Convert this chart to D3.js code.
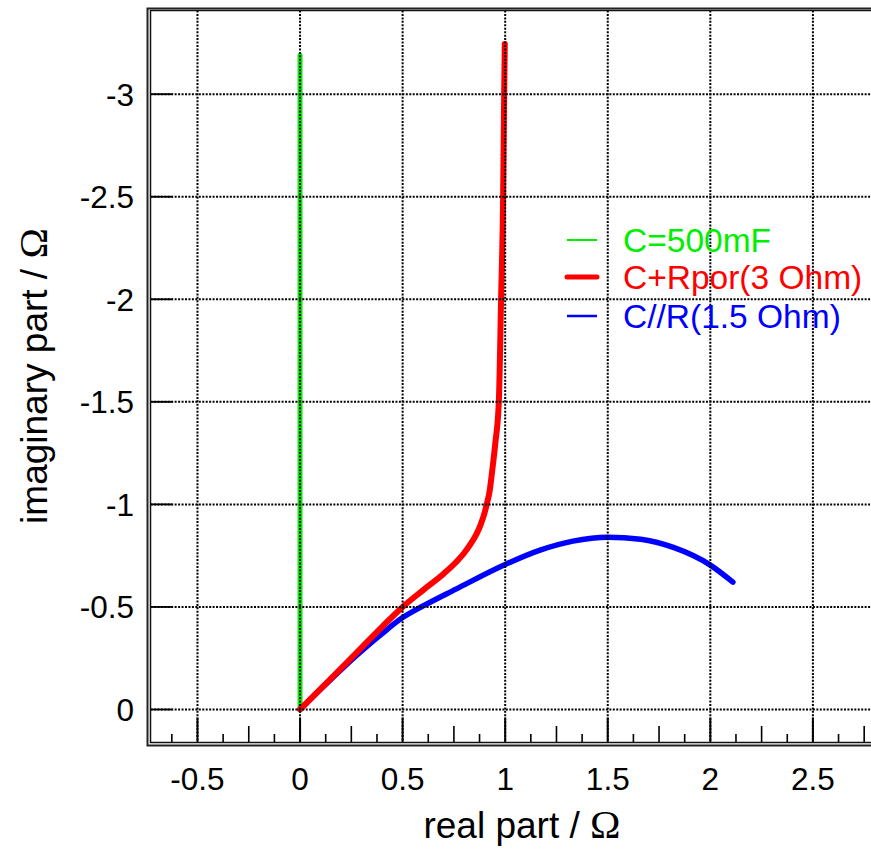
<!DOCTYPE html>
<html>
<head>
<meta charset="utf-8">
<script src="https://cdn.jsdelivr.net/npm/d3@7"></script>
<style>
  html, body { margin: 0; padding: 0; background: #fff; }
  svg { display: block; font-family: "Liberation Sans", Arial, Helvetica, sans-serif; }
</style>
</head>
<body>
<svg id="chart" width="871" height="851"></svg>
<script>
// Axis ticks and labels
const realTicks = [-0.5, 0, 0.5, 1, 1.5, 2, 2.5];
const realTickLabels = ["-0.5", "0", "0.5", "1", "1.5", "2", "2.5"];
const imagTicks = [-3, -2.5, -2, -1.5, -1, -0.5, 0];
const imagTickLabels = ["-3", "-2.5", "-2", "-1.5", "-1", "-0.5", "0"];

// Series names
const seriesNames = ["C=500mF", "C+Rpor(3 Ohm)", "C//R(1.5 Ohm)"];

// Pure capacitor: vertical line on the imaginary axis
const capRe = [0, 0];
const capIm = [0, -3.19];

// Capacitor with pore resistance
const porRe = [0, 0.1, 0.2, 0.3, 0.4, 0.5, 0.6, 0.7, 0.76, 0.8, 0.83, 0.86, 0.88, 0.9, 0.91, 0.925, 0.935, 0.952, 0.969, 0.98, 0.99, 0.995, 0.998];
const porIm = [0, -0.1, -0.2, -0.302, -0.403, -0.5, -0.582, -0.662, -0.718, -0.763, -0.805, -0.855, -0.9, -0.96, -1.0, -1.07, -1.15, -1.3, -1.5, -2.0, -2.5, -3.0, -3.245];

// Capacitor parallel to resistor
const parRe = [0, 0.1, 0.2, 0.3, 0.4, 0.5, 0.6, 0.76, 1.0, 1.17, 1.33, 1.5, 1.66, 1.82, 2.0, 2.11];
const parIm = [0, -0.098, -0.194, -0.285, -0.37, -0.448, -0.505, -0.587, -0.707, -0.777, -0.821, -0.84, -0.83, -0.79, -0.704, -0.621];

const svg = d3.select("#chart");

// Frame (inner plotting box) in pixels
const frame = { left: 150.5, top: 10.5, right: 884.7, bottom: 742.5 };

const x = d3.scaleLinear().domain([-0.729, 2.85]).range([frame.left, frame.right]);
const y = d3.scaleLinear().domain([-3.408, 0.161]).range([frame.top, frame.bottom]);

const toPts = (re, im) => re.map((r, i) => [r, im[i]]);

const line = d3.line()
  .x(d => x(d[0]))
  .y(d => y(d[1]))
  .curve(d3.curveMonotoneX);

const series = [
  { name: seriesNames[0], pts: toPts(capRe, capIm), color: "#00ee00", width: 5, legendWidth: 2 },
  { name: seriesNames[1], pts: toPts(porRe, porIm), color: "#ff0000", width: 6, legendWidth: 5 },
  { name: seriesNames[2], pts: toPts(parRe, parIm), color: "#0000ff", width: 5.5, legendWidth: 2.5 }
];

// Data curves (parallel RC below the pore curve)
const drawOrder = [0, 2, 1];
svg.append("g").selectAll("path")
  .data(drawOrder.map(i => series[i]))
  .join("path")
  .attr("d", d => line(d.pts))
  .attr("fill", "none")
  .attr("stroke", d => d.color)
  .attr("stroke-width", d => d.width)
  .attr("stroke-linecap", "round")
  .attr("stroke-linejoin", "round");

// Dotted grid on top of the curves
const grid = svg.append("g")
  .attr("stroke", "#000")
  .attr("stroke-width", 2)
  .attr("stroke-dasharray", "2,1.45");
grid.selectAll("line.gx")
  .data(realTicks)
  .join("line")
  .attr("class", "gx")
  .attr("x1", d => x(d)).attr("x2", d => x(d))
  .attr("y1", frame.top).attr("y2", frame.bottom);
grid.selectAll("line.gy")
  .data(imagTicks)
  .join("line")
  .attr("class", "gy")
  .attr("y1", d => y(d)).attr("y2", d => y(d))
  .attr("x1", frame.left).attr("x2", frame.right);

// Bottom axis: major, half and quarter ticks
const minorTicks = d3.range(-5, 23).map(k => k * 0.125);
svg.append("g").selectAll("line")
  .data(minorTicks)
  .join("line")
  .attr("x1", d => x(d)).attr("x2", d => x(d))
  .attr("y1", frame.bottom)
  .attr("y2", d => {
    const k = Math.round(d / 0.125);
    if (k % 4 === 0) return frame.bottom - 25;
    if (k % 2 === 0) return frame.bottom - 16.5;
    return frame.bottom - 8.5;
  })
  .attr("stroke", "#000")
  .attr("stroke-width", d => (Math.round(d / 0.125) % 4 === 0 ? 2 : 1.6));

// Left axis: major ticks
svg.append("g").selectAll("line")
  .data(imagTicks)
  .join("line")
  .attr("x1", frame.left).attr("x2", frame.left + 22)
  .attr("y1", d => y(d)).attr("y2", d => y(d))
  .attr("stroke", "#000")
  .attr("stroke-width", 1.8);

// Double frame
svg.append("rect")
  .attr("x", 147.5).attr("y", 8.5)
  .attr("width", frame.right + 3 - 147.5).attr("height", 745.5 - 8.5)
  .attr("fill", "none").attr("stroke", "#222").attr("stroke-width", 2);
svg.append("rect")
  .attr("x", frame.left).attr("y", frame.top)
  .attr("width", frame.right - frame.left).attr("height", frame.bottom - frame.top)
  .attr("fill", "none").attr("stroke", "#111").attr("stroke-width", 1.5);

// Tick labels
svg.append("g").selectAll("text")
  .data(realTicks)
  .join("text")
  .attr("x", d => x(d))
  .attr("y", 790)
  .attr("text-anchor", "middle")
  .attr("font-size", 31.5)
  .text((d, i) => realTickLabels[i]);

svg.append("g").selectAll("text")
  .data(imagTicks)
  .join("text")
  .attr("x", 134)
  .attr("y", d => y(d))
  .attr("dy", "0.36em")
  .attr("text-anchor", "end")
  .attr("font-size", 31.5)
  .text((d, i) => imagTickLabels[i]);

// Axis titles (Ω set in a serif face)
const omegaFont = "'Liberation Serif', 'DejaVu Serif', serif";
const xTitle = svg.append("text")
  .attr("x", 522).attr("y", 838)
  .attr("text-anchor", "middle")
  .attr("font-size", 37);
xTitle.append("tspan").text("real part / ");
xTitle.append("tspan").attr("font-family", omegaFont).attr("font-size", 41).text("Ω");

const yTitle = svg.append("text")
  .attr("transform", "translate(47,376) rotate(-90)")
  .attr("text-anchor", "middle")
  .attr("font-size", 37);
yTitle.append("tspan").text("imaginary part / ");
yTitle.append("tspan").attr("font-family", omegaFont).attr("font-size", 41).text("Ω");

// Legend
const legendRows = [240, 277, 316];
const legend = svg.append("g");
legend.selectAll("line")
  .data(series)
  .join("line")
  .attr("x1", 567).attr("x2", 597)
  .attr("y1", (d, i) => legendRows[i]).attr("y2", (d, i) => legendRows[i])
  .attr("stroke", d => d.color)
  .attr("stroke-width", d => d.legendWidth)
  .attr("stroke-linecap", d => (d.legendWidth > 3 ? "round" : "butt"));
legend.selectAll("text")
  .data(series)
  .join("text")
  .attr("x", 623)
  .attr("y", (d, i) => legendRows[i])
  .attr("dy", "0.35em")
  .attr("font-size", 33.5)
  .attr("fill", d => d.color)
  .text(d => d.name);
</script>
</body>
</html>
